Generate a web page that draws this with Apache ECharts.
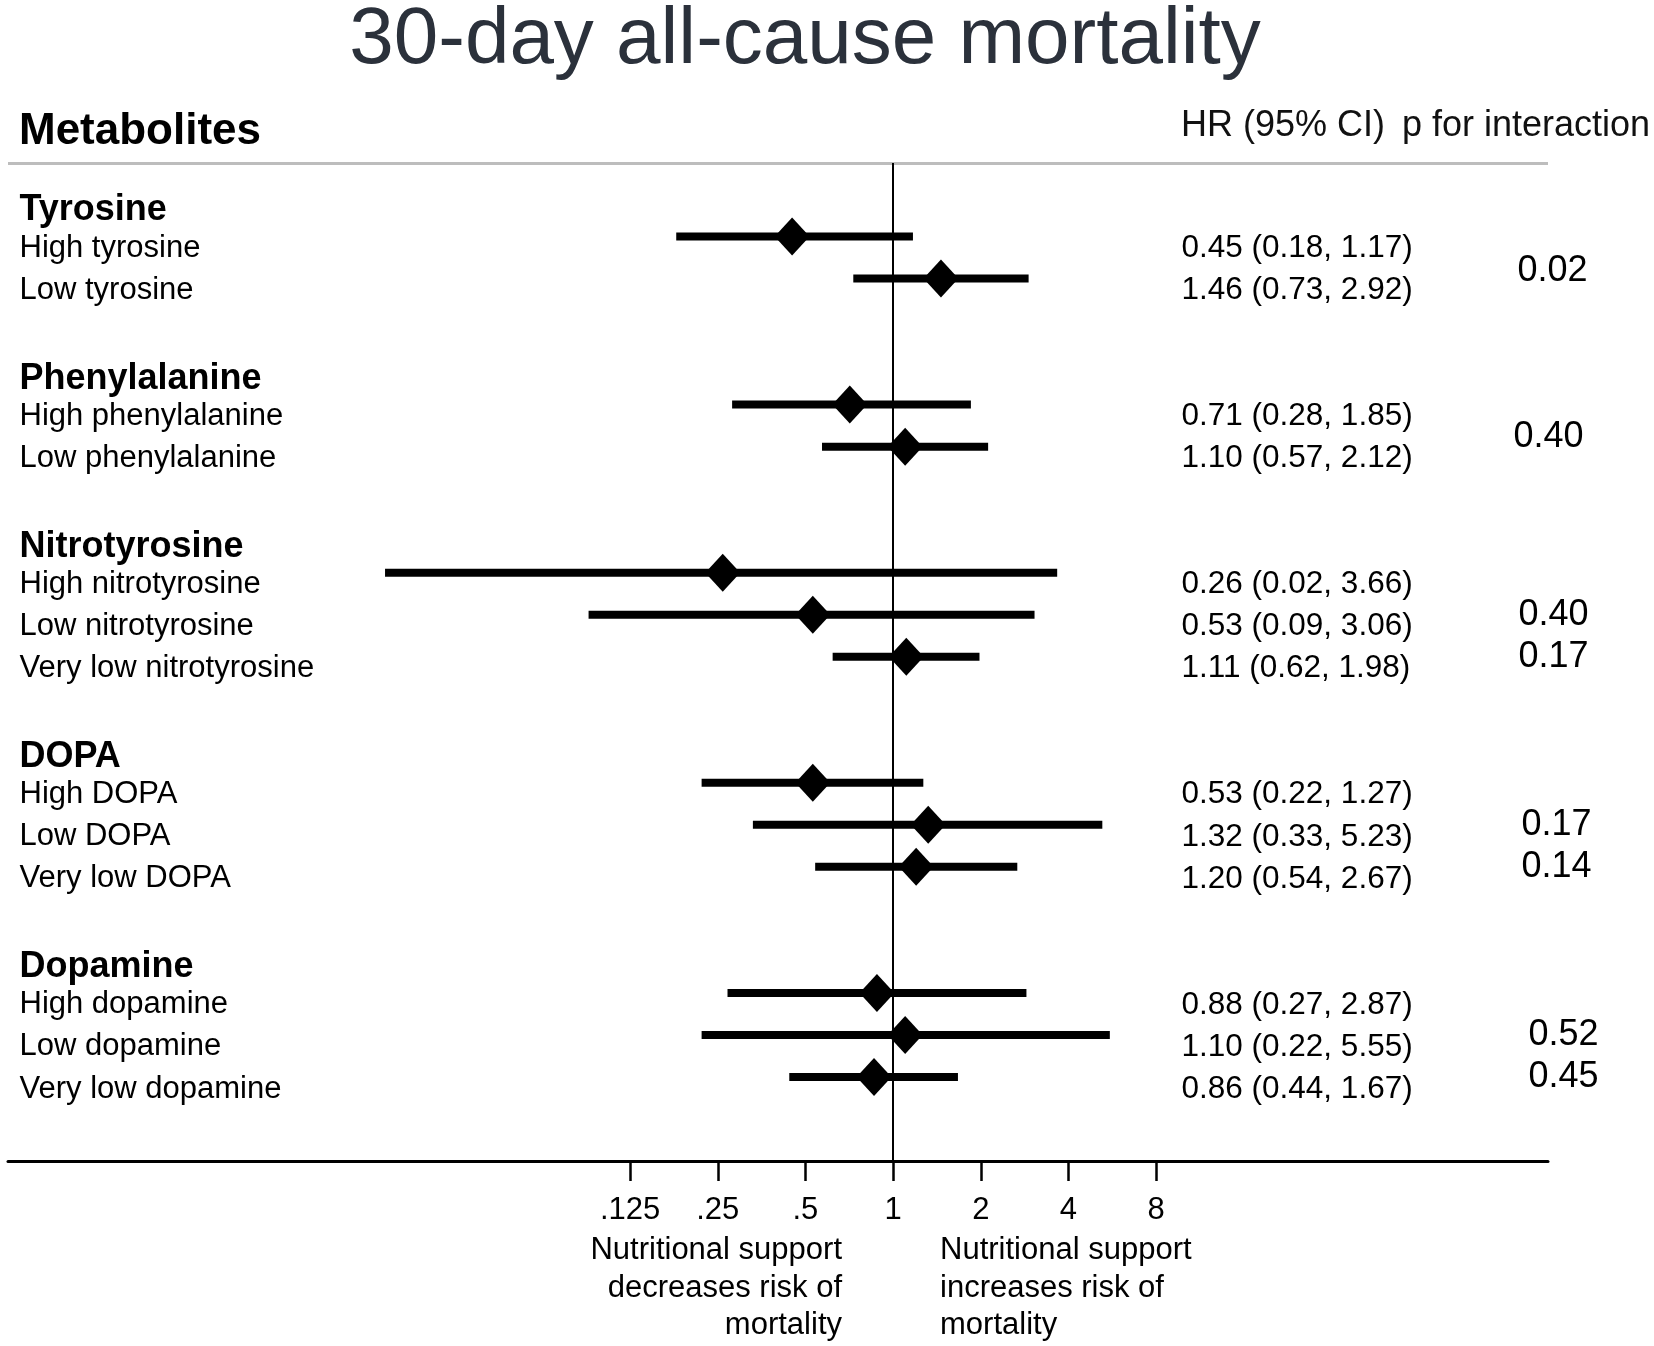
<!DOCTYPE html>
<html>
<head>
<meta charset="utf-8">
<title>30-day all-cause mortality</title>
<script src="https://cdn.jsdelivr.net/npm/echarts@6/dist/echarts.min.js"></script>
<style>
  html, body { margin: 0; padding: 0; background: #fff; }
  #forest { width: 1654px; height: 1346px; }
</style>
</head>
<body>
<div id="forest"></div>
<script>
// data -------------------------------------------------------------
var groups = ['Tyrosine', 'Phenylalanine', 'Nitrotyrosine', 'DOPA', 'Dopamine'];
var groupSizes = [2, 2, 3, 3, 3];
var rowLabels = [
    'High tyrosine', 'Low tyrosine',
    'High phenylalanine', 'Low phenylalanine',
    'High nitrotyrosine', 'Low nitrotyrosine', 'Very low nitrotyrosine',
    'High DOPA', 'Low DOPA', 'Very low DOPA',
    'High dopamine', 'Low dopamine', 'Very low dopamine'
];
var hr     = [0.45, 1.46, 0.71, 1.10, 0.26, 0.53, 1.11, 0.53, 1.32, 1.20, 0.88, 1.10, 0.86];
var ciLow  = [0.18, 0.73, 0.28, 0.57, 0.018, 0.09, 0.62, 0.22, 0.33, 0.54, 0.27, 0.22, 0.44];
var ciHigh = [1.17, 2.92, 1.85, 2.12, 3.66, 3.06, 1.98, 1.27, 5.23, 2.67, 2.87, 5.55, 1.67];
var hrText = [
    '0.45 (0.18, 1.17)', '1.46 (0.73, 2.92)',
    '0.71 (0.28, 1.85)', '1.10 (0.57, 2.12)',
    '0.26 (0.02, 3.66)', '0.53 (0.09, 3.06)', '1.11 (0.62, 1.98)',
    '0.53 (0.22, 1.27)', '1.32 (0.33, 5.23)', '1.20 (0.54, 2.67)',
    '0.88 (0.27, 2.87)', '1.10 (0.22, 5.55)', '0.86 (0.44, 1.67)'
];
var pValues = ['0.02', '0.40', '0.40', '0.17', '0.17', '0.14', '0.52', '0.45'];
var pSlots  = [1.83, 5.78, 10, 11, 15, 16, 20, 21];
var xTicks = [0.125, 0.25, 0.5, 1, 2, 4, 8];
var xTickLabels = ['.125', '.25', '.5', '1', '2', '4', '8'];

// layout -----------------------------------------------------------
var FONT = '"Liberation Sans", Arial, sans-serif';
var pShiftX = [0, -4, 1, 1, 4, 4, 11, 11];
var gridTop = 163, gridBottom = 185;
var yMin = -0.75, yMax = 23;
var xMin = Math.pow(2, -10.097), xMax = Math.pow(2, 7.471);

// slot of each header and row (one blank line between groups)
var headerSlots = [], rowSlots = [];
var s = 0;
for (var g = 0; g < groups.length; g++) {
    headerSlots.push(s);
    for (var k = 1; k <= groupSizes[g]; k++) rowSlots.push(s + k);
    s += groupSizes[g] + 2;
}

var myChart = echarts.init(document.getElementById('forest'));

function yAx(idx) {
    return { gridIndex: idx, type: 'value', inverse: true, min: yMin, max: yMax, show: false };
}
function xHidden(idx) {
    return { gridIndex: idx, type: 'value', min: 0, max: 1, show: false };
}
function textSeries(idx, data, fontSize, weight, dy) {
    return {
        type: 'scatter', xAxisIndex: idx, yAxisIndex: idx, silent: true,
        symbolSize: 1, itemStyle: { color: 'rgba(0,0,0,0)', opacity: 1 },
        data: data,
        label: {
            show: true, position: 'right', distance: 0, offset: [0, dy],
            formatter: function (p) { return p.value[2]; },
            fontFamily: FONT, fontSize: fontSize, fontWeight: weight, color: '#000'
        }
    };
}

var headerData = groups.map(function (name, i) { return [0, headerSlots[i], name]; });
var labelData = rowLabels.map(function (name, i) { return [0, rowSlots[i], name]; });
var hrData = hrText.map(function (t, i) { return [0, rowSlots[i], t]; });
var pData = pValues.map(function (t, i) {
    return { value: [0, pSlots[i], t], label: { offset: [pShiftX[i], 0] } };
});
var ciData = rowSlots.map(function (y, i) { return [ciLow[i], ciHigh[i], y]; });
var pointData = rowSlots.map(function (y, i) { return [hr[i], y]; });

var option = {
    backgroundColor: '#fff',
    animation: false,
    grid: [
        { left: 8, right: 106, top: gridTop, bottom: gridBottom },
        { left: 19, width: 10, top: gridTop, bottom: gridBottom },
        { left: 1181, width: 10, top: gridTop, bottom: gridBottom },
        { left: 1517, width: 10, top: gridTop, bottom: gridBottom }
    ],
    xAxis: [
        {
            gridIndex: 0, type: 'log', logBase: 2, min: xMin, max: xMax, position: 'bottom',
            splitLine: { show: false },
            axisLine: { show: true, onZero: false, lineStyle: { color: '#000', width: 3 } },
            axisTick: { show: true, customValues: xTicks, length: 20, lineStyle: { color: '#000', width: 2.5 } },
            axisLabel: {
                customValues: xTicks, margin: 34,
                fontFamily: FONT, fontSize: 31, color: '#000',
                formatter: function (v) {
                    for (var i = 0; i < xTicks.length; i++) {
                        if (Math.abs(xTicks[i] - v) < 1e-9) return xTickLabels[i];
                    }
                    return '';
                }
            }
        },
        xHidden(1), xHidden(2), xHidden(3)
    ],
    yAxis: [yAx(0), yAx(1), yAx(2), yAx(3)],
    graphic: [
        {
            type: 'text',
            style: { text: '30-day all-cause mortality', x: 805, y: 41, align: 'center', verticalAlign: 'middle',
                font: '80px ' + FONT, fill: '#2b313b' }
        },
        {
            type: 'text', style: { text: 'Metabolites', x: 19, y: 132, verticalAlign: 'middle',
                font: 'bold 44px ' + FONT, fill: '#000' }
        },
        {
            type: 'text', style: { text: 'HR (95% CI)', x: 1181, y: 126, verticalAlign: 'middle',
                font: '36px ' + FONT, fill: '#111' }
        },
        {
            type: 'text', style: { text: 'p for interaction', x: 1402, y: 126, verticalAlign: 'middle',
                font: '36px ' + FONT, fill: '#111' }
        },
        {
            type: 'line', shape: { x1: 8, y1: 163.5, x2: 1548, y2: 163.5 },
            style: { stroke: '#bdbdbd', lineWidth: 3 }
        },
        {
            type: 'text', style: { text: 'Nutritional support\ndecreases risk of\nmortality', x: 842, y: 1232,
                align: 'right', verticalAlign: 'top', lineHeight: 37.5, font: '31px ' + FONT, fill: '#000' }
        },
        {
            type: 'text', style: { text: 'Nutritional support\nincreases risk of\nmortality', x: 940, y: 1232,
                align: 'left', verticalAlign: 'top', lineHeight: 37.5, font: '31px ' + FONT, fill: '#000' }
        }
    ],
    series: [
        {
            type: 'custom', xAxisIndex: 0, yAxisIndex: 0, silent: true,
            encode: { x: [0, 1], y: 2 },
            data: ciData,
            renderItem: function (params, api) {
                var y = api.value(2);
                var a = api.coord([api.value(0), y]);
                var b = api.coord([api.value(1), y]);
                return {
                    type: 'line',
                    shape: { x1: a[0], y1: a[1], x2: b[0], y2: b[1] },
                    style: { stroke: '#000', lineWidth: 8 }
                };
            }
        },
        {
            type: 'scatter', xAxisIndex: 0, yAxisIndex: 0, silent: true,
            symbol: 'diamond', symbolSize: [35, 38],
            itemStyle: { color: '#000', opacity: 1 },
            data: pointData,
            markLine: {
                silent: true, symbol: 'none',
                label: { show: false },
                lineStyle: { color: '#000', width: 2, type: 'solid' },
                data: [{ xAxis: 1 }]
            }
        },
        textSeries(1, headerData, 36, 'bold', 16),
        textSeries(1, labelData, 31, 'normal', 12),
        textSeries(2, hrData, 31.5, 'normal', 12),
        textSeries(3, pData, 36, 'normal', 0)
    ]
};
myChart.setOption(option);

window.addEventListener('resize', function () {
    myChart.resize();
});
</script>
</body>
</html>
